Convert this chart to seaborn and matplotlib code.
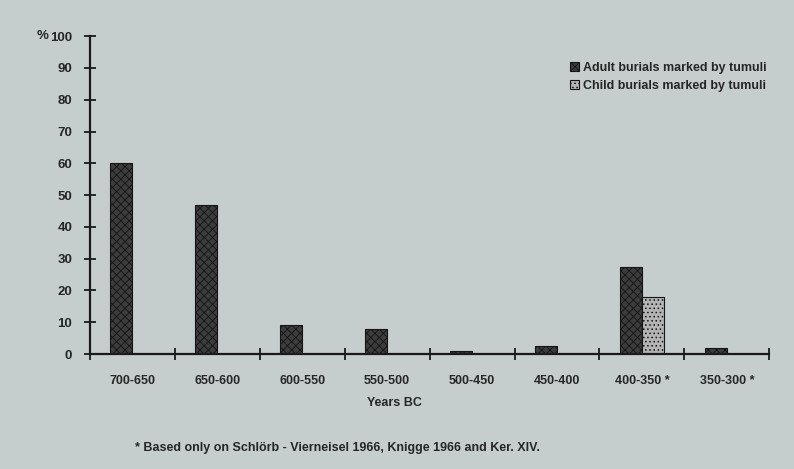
import numpy as np
import pandas as pd
import seaborn as sns
import matplotlib.pyplot as plt

# Values
periods = ['700-650', '650-600', '600-550', '550-500',
           '500-450', '450-400', '400-350 *', '350-300 *']
adult = [60, 47, 9, 8, 1, 2.5, 27.5, 2]
child = [0, 0, 0, 0, 0, 0, 18, 0]
groups = ['Adult burials marked by tumuli', 'Child burials marked by tumuli']

data = pd.DataFrame({
    'period': periods * 2,
    'value': adult + child,
    'group': [groups[0]] * len(periods) + [groups[1]] * len(periods),
})

bg = '#c6cdcd'
sns.set_style('ticks')
plt.rcParams['font.family'] = ['Liberation Sans', 'DejaVu Sans']
plt.rcParams['font.weight'] = 'bold'
plt.rcParams['hatch.linewidth'] = 0.6

fig = plt.figure(figsize=(7.94, 4.69), dpi=100, facecolor=bg)
ax = fig.add_axes([0.113, 0.245, 0.856, 0.678])
ax.set_facecolor(bg)

sns.barplot(data=data, x='period', y='value', hue='group', hue_order=groups,
            order=periods, width=0.52, palette=['#3c3c3c', '#b4b4b4'],
            edgecolor='#151515', linewidth=0.8, legend=False, ax=ax)

# stippled fills like the original print
for cont, hatch in zip(ax.containers, ['xxxx', '....']):
    for p in cont:
        p.set_hatch(hatch)

ax.set_ylim(0, 100)
ax.set_xlim(-0.5, len(periods) - 0.5)
ax.set_yticks(range(0, 101, 10))
ax.set_xticks(np.arange(-0.5, len(periods) + 0.5, 1))
ax.set_xticklabels([])
ax.tick_params(axis='both', direction='inout', length=9, width=1.3, color='#1a1a1a')
ax.tick_params(axis='y', labelsize=9.5, pad=8)
for lab in ax.get_yticklabels():
    lab.set_fontweight('bold')

for i, name in enumerate(periods):
    ax.text(i, -8.5, name, ha='center', va='center', fontsize=9, fontweight='bold')

sns.despine(ax=ax)
for s in ['left', 'bottom']:
    ax.spines[s].set_linewidth(1.6)
    ax.spines[s].set_color('#1a1a1a')

ax.set_xlabel('')
ax.set_ylabel('')
ax.annotate('%', xy=(0, 100), xycoords=('axes fraction', 'data'),
            xytext=(-41, 0), textcoords='offset pixels', ha='right', va='center',
            fontsize=9.5, fontweight='bold')

ax.legend(handles=list(ax.containers), labels=groups, loc='upper right',
          bbox_to_anchor=(1.012, 0.955), frameon=False,
          handlelength=0.75, handleheight=0.75, handletextpad=0.3,
          labelspacing=0.5, prop={'weight': 'bold', 'size': 9})

fig.text(0.497, 0.14, 'Years BC', ha='center', va='center', fontsize=9, fontweight='bold')
fig.text(0.17, 0.045, '* Based only on Schlörb - Vierneisel 1966, Knigge 1966 and Ker. XIV.',
         ha='left', va='center', fontsize=9, fontweight='bold')

fig.savefig('out.png', dpi=100, facecolor=bg)
